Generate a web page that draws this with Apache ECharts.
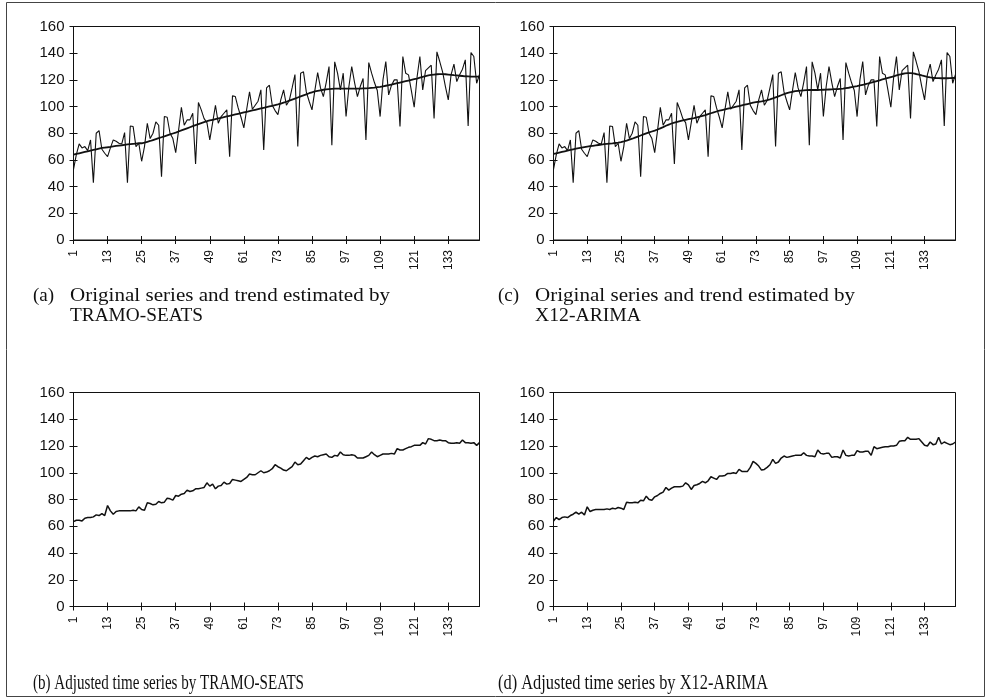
<!DOCTYPE html>
<html>
<head>
<meta charset="utf-8">
<script src="https://cdn.jsdelivr.net/npm/echarts@6/dist/echarts.min.js"></script>
<style>
  html, body { margin: 0; padding: 0; background: #fff; }
  #chart { width: 987px; height: 699px; }
</style>
</head>
<body>
<div id="chart"></div>
<script>
// Monthly index, 144 observations (12 years)
const months = [];
for (let i = 1; i <= 144; i++) months.push(String(i));

// Original (raw) series
const original = [
  53, 64, 72, 69, 70, 67, 75, 43, 80, 82, 68, 65,
  62.5, 69, 75, 74, 72.5, 72, 80.5, 43, 85.5, 85, 70, 72.5,
  59, 70, 87.5, 76, 80, 88.5, 86, 47.5, 92.5, 92, 80, 76,
  65.5, 82, 99.5, 86, 90, 90, 95, 57, 103, 97.5, 91, 88,
  75, 88, 101, 87.5, 92.5, 95, 97.5, 62.5, 108, 107.5, 99, 92,
  84, 98, 111, 98, 101, 104, 112.5, 67.5, 114, 116, 101, 97,
  94, 105, 112.5, 101, 104.5, 114, 124, 70, 125, 126, 111, 104,
  97.5, 112, 125.5, 114, 107.5, 118, 130, 71, 133.5, 125, 112.5, 125,
  92.5, 115, 130, 118, 107.5, 115, 121, 75, 133, 125, 118, 112,
  92.5, 120, 133.75, 108.75, 116, 120, 120, 85, 137.5, 125, 123.75, 112,
  99.5, 122, 137.5, 112.5, 127, 129, 131, 91, 141, 133.75, 126, 115,
  105, 124, 131.75, 118.75, 123.75, 128, 135, 85.5, 140.5, 137.5, 117.5, 124
];

// Trend estimated by TRAMO-SEATS
const trendTramo = [
  64, 64.5, 65, 65.5, 66, 66.5, 67, 67.5, 68, 68.5, 69, 69.3,
  69.5, 69.8, 70.2, 70.5, 70.8, 71, 71.3, 71.6, 71.9, 72.1, 72.3, 72.5,
  72.5, 73, 73.6, 74.2, 74.9, 75.6, 76.3, 77, 77.7, 78.4, 79.1, 79.8,
  80.5, 81.3, 82.1, 82.9, 83.7, 84.5, 85.3, 86.1, 86.9, 87.6, 88.3, 89,
  89.6, 90.1, 90.6, 91.1, 91.6, 92.1, 92.6, 93.1, 93.6, 94.1, 94.6, 95.1,
  95.6, 96.1, 96.6, 97.1, 97.6, 98.1, 98.6, 99.1, 99.6, 100.1, 100.6, 101.1,
  101.6, 102.2, 102.9, 103.6, 104.4, 105.2, 106, 106.8, 107.6, 108.4, 109.2, 110,
  110.7, 111.3, 111.8, 112.2, 112.6, 112.9, 113.1, 113.3, 113.4, 113.5, 113.5, 113.5,
  113.5, 113.5, 113.5, 113.5, 113.5, 113.5, 113.6, 113.7, 113.8, 114, 114.2, 114.5,
  114.8, 115.2, 115.6, 116, 116.5, 117, 117.5, 118, 118.5, 119, 119.5, 120,
  120.5, 121, 121.6, 122.2, 122.8, 123.3, 123.7, 124, 124.2, 124.3, 124.3, 124.2,
  124, 123.8, 123.5, 123.3, 123.1, 122.9, 122.7, 122.6, 122.5, 122.4, 122.4, 122.4
];

// Trend estimated by X12-ARIMA
const trendX12 = [
  64.5, 65, 65.5, 66, 66.5, 67, 67.5, 68, 68.4, 68.8, 69.2, 69.6,
  70, 70.3, 70.6, 70.9, 71.2, 71.5, 71.8, 72, 72.2, 72.4, 72.7, 73,
  73.4, 73.9, 74.5, 75.2, 75.9, 76.7, 77.5, 78.3, 79.1, 79.9, 80.6, 81.3,
  82, 82.8, 83.7, 84.6, 85.6, 86.5, 87.3, 88, 88.6, 89.1, 89.6, 90.1,
  90.6, 91, 91.4, 91.9, 92.4, 93, 93.6, 94.3, 95, 95.7, 96.3, 96.9,
  97.4, 97.9, 98.4, 98.9, 99.4, 99.9, 100.4, 100.9, 101.4, 101.9, 102.4, 102.9,
  103.3, 103.6, 103.9, 104.3, 104.8, 105.4, 106.1, 106.9, 107.7, 108.5, 109.3, 110,
  110.6, 111.1, 111.5, 111.8, 112, 112.2, 112.3, 112.4, 112.4, 112.4, 112.4, 112.5,
  112.6, 112.7, 112.8, 112.9, 113, 113.1, 113.3, 113.5, 113.8, 114.1, 114.5, 114.9,
  115.3, 115.8, 116.3, 116.8, 117.3, 117.9, 118.5, 119.1, 119.7, 120.3, 120.9, 121.5,
  122.1, 122.7, 123.3, 123.9, 124.4, 124.8, 125, 125, 124.8, 124.4, 123.9, 123.3,
  122.8, 122.3, 121.9, 121.6, 121.4, 121.3, 121.2, 121.2, 121.2, 121.3, 121.4, 121.5
];

// Seasonally adjusted series, TRAMO-SEATS
const adjustedTramo = [
  63.5, 64.5, 64.5, 64, 66, 66.5, 66.5, 67, 68.5, 68, 69.5, 68,
  75.5, 71.5, 69, 71, 71.5, 71.5, 71.5, 71.5, 71.5, 72, 71.5, 74.5,
  72.5, 72, 77.5, 77, 76, 76.5, 78.5, 77.5, 78, 81, 80.5, 79.5,
  83, 82.5, 84, 84.5, 87, 86, 86.5, 88, 88, 88.5, 89, 92.5,
  90, 91.5, 88, 90, 90.5, 93, 91.5, 92, 95, 94.5, 94, 93.5,
  95, 96.5, 99, 98.5, 98.5, 100, 101.5, 100, 100.5, 101.5, 103, 106,
  104.5, 103.5, 102, 101.5, 103, 104.5, 108, 106, 106.5, 109, 111.5, 110,
  111.5, 112.5, 112, 113, 113.5, 114, 112, 111.5, 113, 112.5, 115.5, 113.5,
  113, 113, 113.5, 113, 111, 111, 111, 112, 113, 115.5, 113.5, 112,
  113, 114, 114, 114, 114.5, 114, 118, 117, 117, 118, 119, 119.5,
  120.5, 120.5, 120.5, 122.5, 121.5, 125.5, 125, 124, 124, 124.5, 124, 124,
  122.5, 122, 122, 122.5, 122, 124.5, 122.5, 122.5, 122, 122.5, 120.5, 122.5
];

// Seasonally adjusted series, X12-ARIMA
const adjustedX12 = [
  64, 66.5, 65, 66.5, 67, 66.5, 68, 69, 70.5, 69, 70.5, 68.5,
  74.5, 71, 72, 72.5, 72.5, 72.5, 72.5, 73, 72.5, 73.5, 73, 74,
  73.5, 72.5, 78, 77.5, 77.5, 78, 77.5, 79.5, 79, 82.5, 80, 79.5,
  82, 83, 84.5, 85.5, 89, 87, 88.5, 89.5, 89.5, 89.5, 90, 92.5,
  91, 87.5, 90.5, 91, 92, 93.5, 92.5, 94, 97, 96, 95, 97.5,
  97.5, 98, 99.5, 99.5, 100, 99.5, 102.5, 101, 101, 101, 104, 108.5,
  107, 105, 102, 102.5, 104, 106, 110, 107, 108, 111, 112.5, 111.5,
  112, 112.5, 113, 113, 113, 115, 113, 112.5, 112.5, 112, 117, 114.5,
  114, 114.5, 114.5, 111.5, 112, 112, 111, 117, 113, 112.5, 113, 113,
  116.5, 115.5, 115.5, 116, 116, 113, 119.5, 118, 118.5, 119, 119.5, 119.5,
  120, 120, 120.5, 123.5, 124, 124, 126.5, 125, 125, 125, 125.5, 123,
  120.5, 120, 123, 121, 121.5, 126.5, 121.5, 123, 122, 121, 121.5, 123
];

// Y-axis range and step
const yMin = 0, yMax = 160, yStep = 20;

const INK = '#111';
const SANS = '"Liberation Sans", Arial, sans-serif';
const SERIF = '"Liberation Serif", "Times New Roman", serif';

// Four panel plot areas (a, c on top; b, d below)
const grids = [
  { left: 73.5, top: 26.5, width: 406, height: 213.5 },
  { left: 553.5, top: 26.5, width: 402, height: 213.5 },
  { left: 73.5, top: 392.5, width: 406, height: 214 },
  { left: 553.5, top: 392.5, width: 402, height: 214 }
].map(g => Object.assign({ show: true, borderColor: INK, borderWidth: 1, backgroundColor: 'transparent' }, g));

const xAxes = [], yAxes = [];
grids.forEach((g, i) => {
  // main category axis with labels and outward ticks
  xAxes.push({
    gridIndex: i, type: 'category', data: months, boundaryGap: false,
    axisLine: { show: true, lineStyle: { color: INK, width: 1 } },
    axisTick: { show: true, interval: 11, length: 4, lineStyle: { color: INK } },
    axisLabel: { show: true, interval: 11, rotate: 90, margin: 10, color: INK,
                 fontFamily: SANS, fontSize: 12 },
    splitLine: { show: false }
  });
  // companion axis giving the inward half of each tick
  xAxes.push({
    gridIndex: i, type: 'category', data: months, boundaryGap: false, position: 'bottom',
    axisLine: { show: false },
    axisTick: { show: true, inside: true, interval: 11, length: 4, lineStyle: { color: INK } },
    axisLabel: { show: false }, splitLine: { show: false }
  });
  yAxes.push({
    gridIndex: i, type: 'value', min: yMin, max: yMax, interval: yStep,
    axisLine: { show: true, lineStyle: { color: INK, width: 1 } },
    axisTick: { show: true, length: 4, lineStyle: { color: INK } },
    axisLabel: { show: true, margin: 9, color: INK, fontFamily: SANS, fontSize: 15 },
    splitLine: { show: false }
  });
  yAxes.push({
    gridIndex: i, type: 'value', min: yMin, max: yMax, interval: yStep, position: 'left',
    axisLine: { show: false },
    axisTick: { show: true, inside: true, length: 4, lineStyle: { color: INK } },
    axisLabel: { show: false }, splitLine: { show: false }
  });
});

function line(panel, data, width) {
  return {
    type: 'line', xAxisIndex: panel * 2, yAxisIndex: panel * 2, data: data,
    showSymbol: false, symbol: 'none', silent: true,
    lineStyle: { color: INK, width: width }
  };
}

const series = [
  line(0, original, 1.1), line(0, trendTramo, 1.8),
  line(1, original, 1.1), line(1, trendX12, 1.8),
  line(2, adjustedTramo, 1.5),
  line(3, adjustedX12, 1.5)
];

// Caption text, horizontally scaled so that it spans the given width
const measureCtx = document.createElement('canvas').getContext('2d');
function caption(x, y, text, spanWidth, size) {
  const font = (size || 19) + 'px ' + SERIF;
  measureCtx.font = font;
  const natural = measureCtx.measureText(text).width;
  const sx = spanWidth ? spanWidth / natural : 1;
  return {
    type: 'text', x: x, y: y, scaleX: sx, silent: true,
    style: { text: text, fill: INK, font: font, verticalAlign: 'middle', align: 'left' }
  };
}

const graphic = [
  { type: 'rect', silent: true, shape: { x: 6.5, y: 2.5, width: 978, height: 694 },
    style: { fill: 'none', stroke: '#444', lineWidth: 1 } },
  caption(33, 296, '(a)'), caption(70, 296, 'Original series and trend estimated by', 320),
  caption(70, 316, 'TRAMO-SEATS', 133),
  caption(498, 296, '(c)'), caption(535, 296, 'Original series and trend estimated by', 320),
  caption(535, 316, 'X12-ARIMA', 106),
  caption(33, 683, '(b) Adjusted time series by TRAMO-SEATS', 271, 21),
  caption(498, 683, '(d) Adjusted time series by X12-ARIMA', 270, 21)
];

const chart = echarts.init(document.getElementById('chart'), null, { renderer: 'canvas' });
chart.setOption({
  animation: false,
  backgroundColor: '#fff',
  grid: grids,
  xAxis: xAxes,
  yAxis: yAxes,
  series: series,
  graphic: graphic
});
</script>
</body>
</html>
